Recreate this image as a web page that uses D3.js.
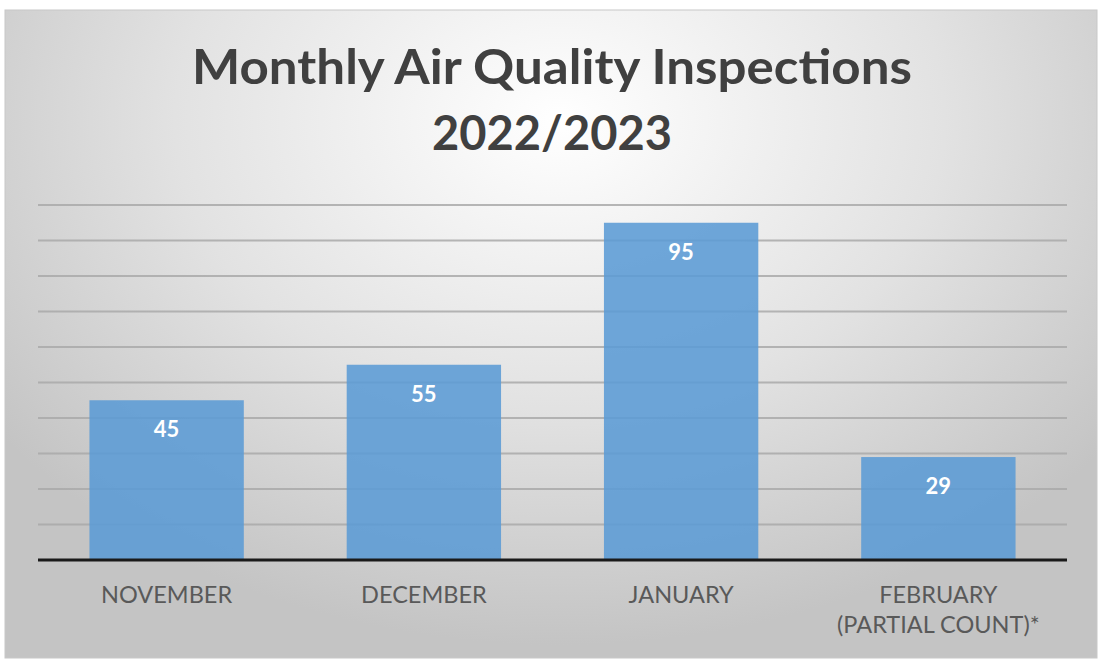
<!DOCTYPE html>
<html><head><meta charset="utf-8">
<script src="https://cdn.jsdelivr.net/npm/d3@7"></script>
<style>html,body{margin:0;padding:0;background:#fff;}svg{display:block;}</style>
</head><body>
<svg id="chart" width="1100" height="660"></svg>
<script>
const categories = ["NOVEMBER", "DECEMBER", "JANUARY", "FEBRUARY\n(PARTIAL COUNT)*"];
const values = [45, 55, 95, 29];
const gridTicks = [0, 10, 20, 30, 40, 50, 60, 70, 80, 90, 100];
const titleLines = ["Monthly Air Quality Inspections", "2022/2023"];

const svg = d3.select("#chart");
const defs = svg.append("defs");
const grad = defs.append("radialGradient").attr("id", "bg")
  .attr("gradientUnits", "userSpaceOnUse")
  .attr("cx", 560).attr("cy", 120).attr("r", 700)
  .attr("gradientTransform", "translate(560,120) scale(1,0.75) translate(-560,-120)");
grad.append("stop").attr("offset", "0").attr("stop-color", "#ffffff");
grad.append("stop").attr("offset", "0.55").attr("stop-color", "#e2e2e2");
grad.append("stop").attr("offset", "1").attr("stop-color", "#c4c4c4");

svg.append("rect").attr("x", 5).attr("y", 10).attr("width", 1092).attr("height", 648)
  .attr("fill", "url(#bg)").attr("stroke", "#c8c8c8").attr("stroke-width", 1);

const x = d3.scaleBand().domain(categories).range([38, 1067]).paddingInner(0.4).paddingOuter(0.2);
const y = d3.scaleLinear().domain([0, 100]).range([560, 205]);

// gridlines
svg.append("g").selectAll("line").data(gridTicks.filter(d => d > 0)).join("line")
  .attr("x1", 38).attr("x2", 1067)
  .attr("y1", d => y(d)).attr("y2", d => y(d))
  .attr("stroke", "#a9a9a9").attr("stroke-width", 2).attr("stroke-opacity", 0.85);

// bars
svg.append("g").selectAll("rect").data(values).join("rect")
  .attr("x", (d, i) => x(categories[i]))
  .attr("width", x.bandwidth())
  .attr("y", d => y(d))
  .attr("height", d => y(0) - y(d))
  .attr("fill", "#5b9bd5").attr("fill-opacity", 0.88);

// baseline axis
const xAxis = d3.axisBottom(x).tickSize(0).tickFormat("");
const ax = svg.append("g").attr("transform", `translate(0,${y(0)})`).call(xAxis);
ax.select(".domain").attr("stroke", "#1a1a1a").attr("stroke-width", 3)
  .attr("d", "M38,0H1067");

// category labels
const lab = svg.append("g").selectAll("text").data(categories).join("text")
  .attr("x", d => x(d) + x.bandwidth() / 2)
  .attr("y", 603)
  .attr("text-anchor", "middle")
  .attr("font-family", "Lato, 'Open Sans', sans-serif")
  .attr("font-size", 23.5)
  .attr("fill", "#595959");
lab.each(function(d) {
  const parts = d.split("\n");
  d3.select(this).selectAll("tspan").data(parts).join("tspan")
    .attr("x", x(d) + x.bandwidth() / 2)
    .attr("dy", (p, i) => i === 0 ? 0 : 30)
    .text(p => p);
});

// value labels
svg.append("g").selectAll("text").data(values).join("text")
  .attr("x", (d, i) => x(categories[i]) + x.bandwidth() / 2)
  .attr("y", d => y(d) + 37)
  .attr("text-anchor", "middle")
  .attr("font-family", "Lato, 'Open Sans', sans-serif")
  .attr("font-weight", "bold")
  .attr("font-size", 22)
  .attr("fill", "#ffffff")
  .text(d => d);

// title
const titleWidths = [720, 240];
svg.append("g").selectAll("text").data(titleLines).join("text")
  .attr("x", 552)
  .attr("y", (d, i) => 84 + i * 66)
  .attr("text-anchor", "middle")
  .attr("font-family", "Lato, 'Open Sans', sans-serif")
  .attr("font-weight", "bold")
  .attr("font-size", 47)
  .attr("textLength", (d, i) => titleWidths[i])
  .attr("lengthAdjust", "spacingAndGlyphs")
  .attr("fill", "#404040")
  .text(d => d);
</script>
</body></html>
